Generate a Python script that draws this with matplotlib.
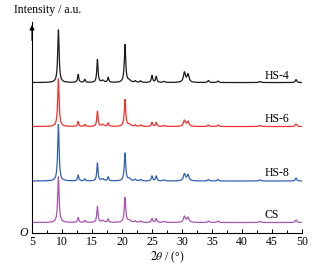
import numpy as np
import matplotlib.pyplot as plt
from matplotlib.ticker import MultipleLocator

plt.rcParams['font.family'] = ['Liberation Serif', 'DejaVu Serif']
plt.rcParams['mathtext.fontset'] = 'stix'

# XRD peak table: position (2theta) and height of each
# reflection for every sample, plus half width at half maximum
peak_pos = [9.4, 12.7, 13.8, 15.9, 16.8, 17.7, 20.5, 21.2, 22.2, 23.1,
            25.0, 25.7, 27.0, 30.4, 31.0, 34.4, 36.0, 43.0, 49.0]
peak_hwhm = [0.14, 0.12, 0.12, 0.12, 0.25, 0.12, 0.14, 0.25, 0.15, 0.15,
             0.13, 0.13, 0.2, 0.2, 0.2, 0.15, 0.15, 0.2, 0.15]
hs4_peaks = [53, 8, 3, 23, 2, 5, 38, 2, 1.5, 1.5, 7, 6, 1, 10, 8, 2, 1.5, 1, 3]
hs6_peaks = [48, 5, 2, 15, 2, 3.5, 27, 2, 1.5, 1.5, 4, 4, 1, 6, 5, 1.5, 1.5, 1, 2.5]
hs8_peaks = [57, 6, 2, 18, 2, 4, 28, 2, 1.5, 1.5, 5, 5, 1, 7, 6, 1.5, 1.5, 1, 3]
cs_peaks = [46, 5, 2, 16, 2, 3.5, 25, 2, 1.5, 1.5, 4, 4, 1, 6, 5, 1.5, 1.5, 1, 2.5]

names = ['HS-4', 'HS-6', 'HS-8', 'CS']
offsets = [150.5, 106.5, 52, 10.5]
colors = ['#1a1a1a', '#f0302a', '#3060b8', '#a855b0']
label_y = [151.5, 108, 54, 12]


def pattern(x, heights):
    y = np.zeros_like(x)
    for x0, w, h in zip(peak_pos, peak_hwhm, heights):
        y += h * w**2 / ((x - x0)**2 + w**2)
    return y


x = np.linspace(5, 50, 2000)

fig = plt.figure(figsize=(3.32, 2.67), dpi=100)
ax = fig.add_axes([0.0964, 0.1273, 0.8133, 0.790])

all_peaks = [hs4_peaks, hs6_peaks, hs8_peaks, cs_peaks]
for name, off, c, pk, ly in zip(names, offsets, colors, all_peaks, label_y):
    ax.plot(x, off + pattern(x, pk), color=c, lw=0.9)
    ax.text(43.7, ly, name, fontsize=8.5, ha='left', va='bottom')

ax.set_xlim(5, 50)
ax.set_ylim(0, 211)
ax.spines['top'].set_visible(False)
ax.spines['right'].set_visible(False)
ax.spines['left'].set_linewidth(0.8)
ax.spines['bottom'].set_linewidth(0.8)
ax.set_yticks([])
ax.xaxis.set_major_locator(MultipleLocator(5))
ax.xaxis.set_minor_locator(MultipleLocator(2.5))
ax.tick_params(axis='x', which='major', direction='in', length=3, width=0.7,
               labelsize=8.5, pad=2)
ax.tick_params(axis='x', which='minor', direction='in', length=2, width=0.7)

# arrow on y axis
ax.annotate('', xy=(0, 1.0), xycoords='axes fraction', xytext=(0, 0.9),
            arrowprops=dict(arrowstyle='-|>', color='black', lw=0.8,
                            mutation_scale=7))

fig.text(0.042, 0.94, 'Intensity / a.u.', fontsize=8.5, ha='left', va='bottom')
fig.text(0.072, 0.127, 'O', fontsize=8.5, style='italic', ha='center', va='center')
ax.set_xlabel(r'$2\theta$ / (°)', fontsize=8.5, labelpad=1)

fig.savefig('out.png', dpi=100)
